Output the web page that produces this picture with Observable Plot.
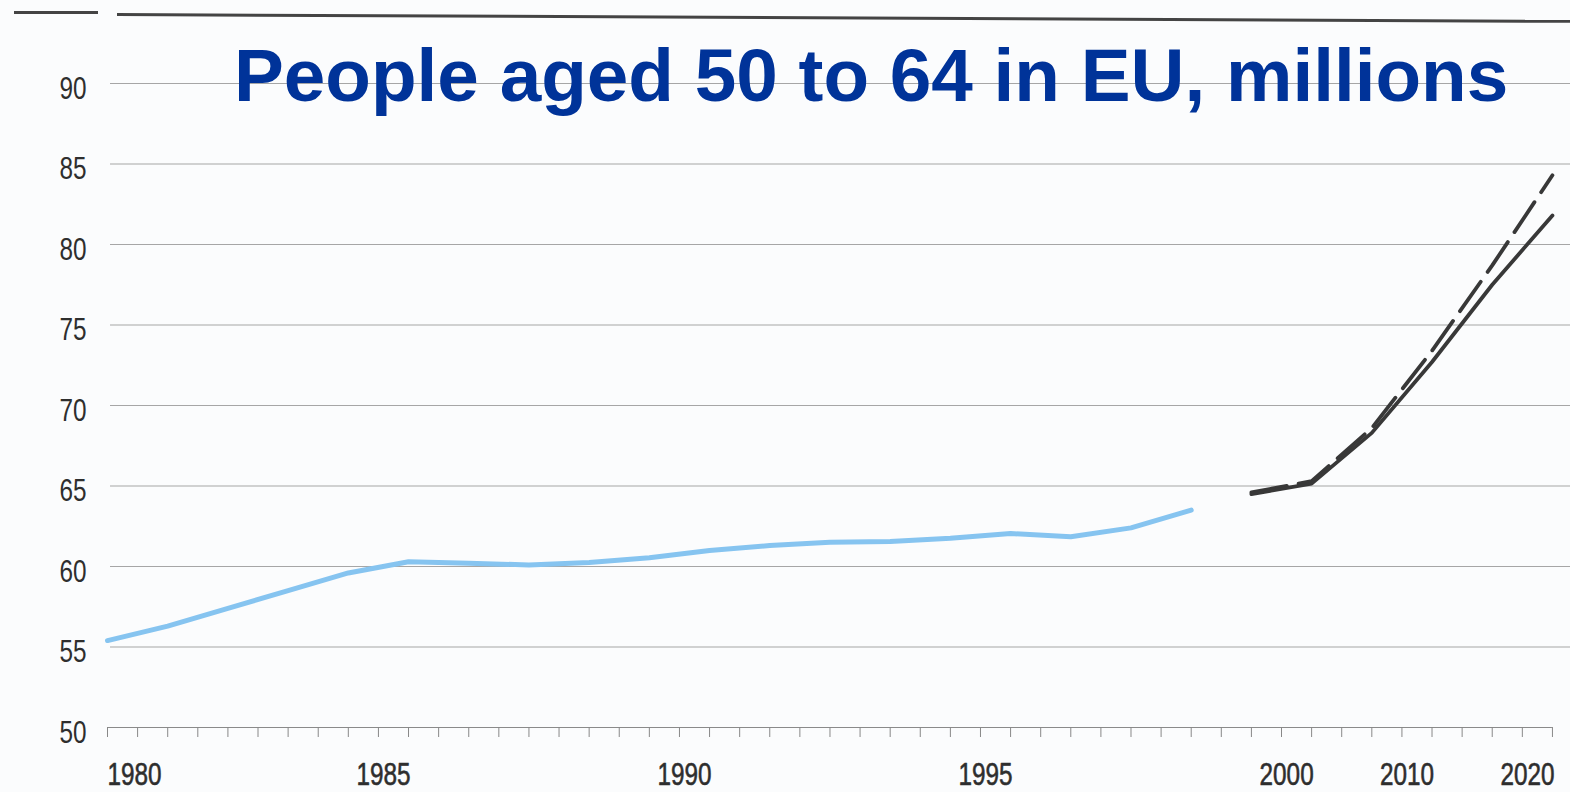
<!DOCTYPE html>
<html><head><meta charset="utf-8">
<script src="https://cdn.jsdelivr.net/npm/d3@7"></script>
<script src="https://cdn.jsdelivr.net/npm/@observablehq/plot@0.6"></script>
<style>
html,body{margin:0;padding:0;background:#fbfcfd;}
#wrap{position:relative;width:1570px;height:792px;overflow:hidden;}
#chart{position:absolute;left:0;top:0;}
#title{position:absolute;left:234px;top:38px;font:bold 74.7px "Liberation Sans",Arial,sans-serif;line-height:74px;color:#003399;white-space:nowrap;}
.rule{position:absolute;background:#444;height:3px;}
</style></head><body>
<div id="wrap">
<div id="chart"></div>
<div class="rule" style="left:14px;top:11px;width:84px"></div>
<div class="rule" style="left:117px;top:13px;width:1460px;transform-origin:0 0;transform:rotate(0.27deg)"></div>
<div id="title">People aged 50 to 64 in EU, millions</div>
</div>
<script>
// Historic series, millions
const histYears  = [1980,1981,1982,1983,1984,1985,1986,1987,1988,1989,1990,1991,1992,1993,1994,1995,1996,1997,1998];
const histValues = [55.4,56.3,57.4,58.5,59.6,60.3,60.2,60.1,60.25,60.55,61.0,61.3,61.5,61.55,61.75,62.05,61.85,62.4,63.5];
// Projections (5-year steps, compressed axis)
const projYears = [1995,2000,2005,2010,2015,2020];
const projLow   = [64.5,65.15,68.3,72.7,77.5,81.8];
const projHigh  = [64.6,65.3,68.6,73.4,78.7,84.3];
// Axis labels
const xLabelsHist = [1980,1985,1990,1995];
const xLabelsProj = [2000,2010,2020];
const yTicks = [50,55,60,65,70,75,80,85,90];

// Broken axis: one slot per year for history, one slot per 5 years for projections
const histSlot = y => y - 1980;
const projSlot = y => 19 + (y - 1995) / 5;

const hist = histYears.map((y,i) => ({slot: histSlot(y), value: histValues[i]}));
const proj = projYears.map((y,i) => ({slot: projSlot(y), low: projLow[i], high: projHigh[i]}));
const labels = [
  ...xLabelsHist.map(y => ({slot: histSlot(y), label: String(y)})),
  ...xLabelsProj.map(y => ({slot: projSlot(y), label: String(y)}))
];
const halfSlots = d3.range(0, 24.001, 0.5);
const font = '"Liberation Sans",Arial,sans-serif';
const lab = {fontSize: 32, fill: "#2e2e2e", stroke: "#2e2e2e", strokeWidth: 0.6};

const chart = Plot.plot({
  width: 1570, height: 792,
  marginLeft: 107, marginRight: 0, marginTop: 83, marginBottom: 65,
  x: {domain: [0, 24.3], axis: null},
  y: {domain: [50, 90], axis: null},
  style: {background: "transparent", fontFamily: font, color: "#333"},
  marks: [
    Plot.ruleY(yTicks.filter(d => d > 50), {x1: 0.05, x2: 24.3, stroke: "#a6a6a6", strokeWidth: 1.2}),
    Plot.ruleY([50], {x1: 0, x2: 24, stroke: "#8a8a8a", strokeWidth: 1.2}),
    Plot.axisX({ticks: halfSlots, tickSize: 10, tickFormat: () => "", label: null, stroke: "#888", strokeWidth: 1}),
    Plot.axisY({ticks: yTicks, tickSize: 0, tickPadding: 21, dy: 5, label: null, ...lab}),
    Plot.text(labels.filter(d => d.label === "1980"), {x: "slot", y: () => 50, text: "label", dy: 47, textAnchor: "start", ...lab}),
    Plot.text(labels.filter(d => d.label !== "1980"), {x: "slot", y: () => 50, text: "label", dy: 47, dx: -25, ...lab}),
    Plot.line(hist, {x: "slot", y: "value", stroke: "#86c4f0", strokeWidth: 5}),
    Plot.line(proj, {x: "slot", y: "high", stroke: "#383838", strokeWidth: 3.8, strokeDasharray: "36,12"}),
    Plot.line(proj, {x: "slot", y: "low", stroke: "#383838", strokeWidth: 3.8})
  ]
});
// Narrow the digit labels (condensed look of the original typeface)
chart.querySelectorAll("text").forEach(t => {
  const tr = t.getAttribute("transform");
  if (tr) {
    t.setAttribute("transform", tr + " scale(0.76,1)");
  } else {
    const x = +t.getAttribute("x") || 0, y = +t.getAttribute("y") || 0;
    t.removeAttribute("x"); t.removeAttribute("y");
    t.setAttribute("transform", `translate(${x},${y}) scale(0.76,1)`);
  }
});
document.getElementById("chart").appendChild(chart);
</script>
</body></html>
